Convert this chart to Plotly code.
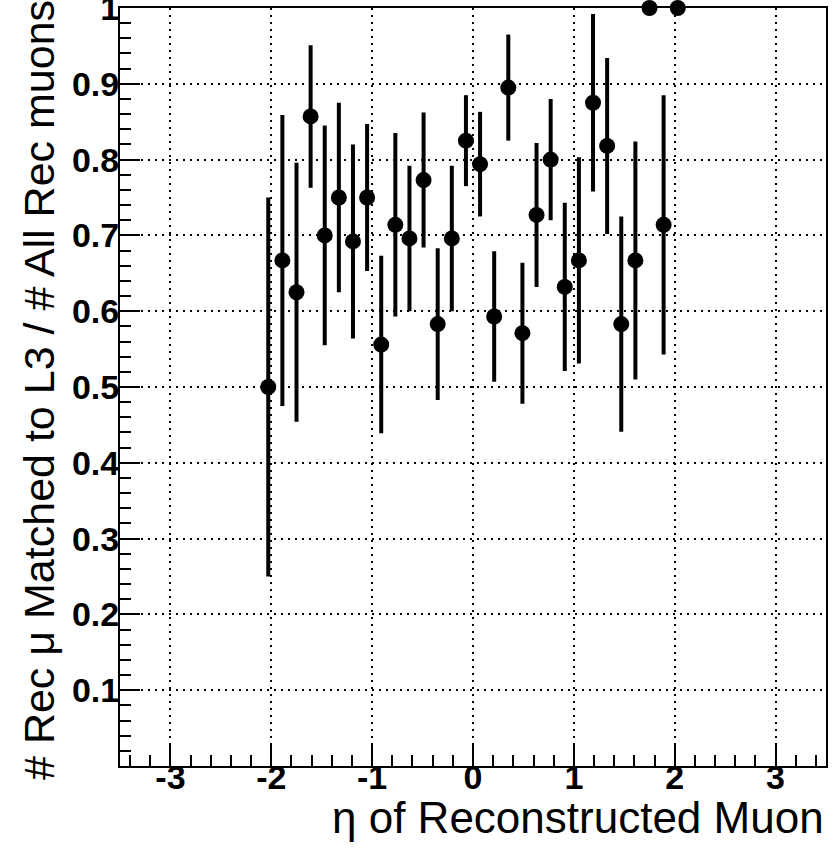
import plotly.graph_objects as go

# Bin centres (eta) and efficiency values
eta = [-2.03, -1.89, -1.75, -1.61, -1.47, -1.33, -1.19, -1.05, -0.91, -0.77,
       -0.63, -0.49, -0.35, -0.21, -0.07, 0.07, 0.21, 0.35, 0.49, 0.63,
       0.77, 0.91, 1.05, 1.19, 1.33, 1.47, 1.61, 1.75, 1.89, 2.03]
eff = [0.500, 0.667, 0.625, 0.857, 0.700, 0.750, 0.692, 0.750, 0.556, 0.714,
       0.696, 0.773, 0.583, 0.696, 0.825, 0.794, 0.593, 0.895, 0.571, 0.727,
       0.800, 0.632, 0.667, 0.875, 0.818, 0.583, 0.667, 1.000, 0.714, 1.000]
err = [0.250, 0.192, 0.171, 0.094, 0.145, 0.125, 0.128, 0.097, 0.117, 0.121,
       0.096, 0.089, 0.100, 0.096, 0.060, 0.069, 0.086, 0.070, 0.093, 0.095,
       0.080, 0.111, 0.136, 0.117, 0.116, 0.142, 0.157, 0.000, 0.171, 0.000]

x_ticks = [-3, -2, -1, 0, 1, 2, 3]
x_ticktext = ["-3", "-2", "-1", "0", "1", "2", "3"]
y_ticks = [0.1, 0.2, 0.3, 0.4, 0.5, 0.6, 0.7, 0.8, 0.9, 1.0]
y_ticktext = ["0.1", "0.2", "0.3", "0.4", "0.5", "0.6", "0.7", "0.8", "0.9", "1"]

FONT = "Liberation Sans, Arial, Helvetica, sans-serif"

fig = go.Figure()
fig.add_trace(go.Scatter(
    x=eta, y=eff, mode="markers",
    marker=dict(symbol="circle", size=16, color="black"),
    error_y=dict(type="data", array=err, symmetric=True, thickness=4,
                 width=0, color="black"),
    cliponaxis=False, showlegend=False, hoverinfo="skip",
))

axis_common = dict(
    showline=True, linecolor="black", linewidth=2, mirror=True,
    showgrid=True, gridcolor="black", gridwidth=1.5, griddash="2px,5px",
    zeroline=False, ticks="inside", tickcolor="black", tickwidth=2,
    automargin=False, ticklabeloverflow="allow",
    tickfont=dict(family=FONT, size=34, color="black", weight="bold"),
)

fig.update_xaxes(
    range=[-3.5, 3.5], tickmode="array", tickvals=x_ticks, ticktext=x_ticktext,
    ticklen=22, ticklabelstandoff=-20,
    minor=dict(dtick=0.2, tick0=0, ticks="inside", ticklen=11, tickwidth=2,
               tickcolor="black", showgrid=False),
    **axis_common,
)
fig.update_yaxes(
    range=[0, 1], tickmode="array", tickvals=y_ticks, ticktext=y_ticktext,
    ticklen=20, ticklabelstandoff=-8,
    minor=dict(dtick=0.02, tick0=0, ticks="inside", ticklen=11, tickwidth=2,
               tickcolor="black", showgrid=False),
    **axis_common,
)

fig.add_annotation(
    text="η of Reconstructed Muon", xref="paper", yref="paper",
    x=1.0, y=-0.068, xanchor="right", yanchor="middle", showarrow=False,
    font=dict(family=FONT, size=44, color="black"),
)
fig.add_annotation(
    text="# Rec μ Matched to L3 / # All Rec muons", xref="paper", yref="paper",
    x=-0.115, y=1.013, xanchor="center", yanchor="top", showarrow=False,
    textangle=-90,
    font=dict(family=FONT, size=43, color="black"),
)

fig.update_layout(
    width=834, height=849,
    margin=dict(l=120, r=8, t=8, b=83, autoexpand=False),
    paper_bgcolor="white", plot_bgcolor="white",
)

fig.write_html("out.html", config={"displayModeBar": False},
               post_script="document.body.style.margin='0';")
